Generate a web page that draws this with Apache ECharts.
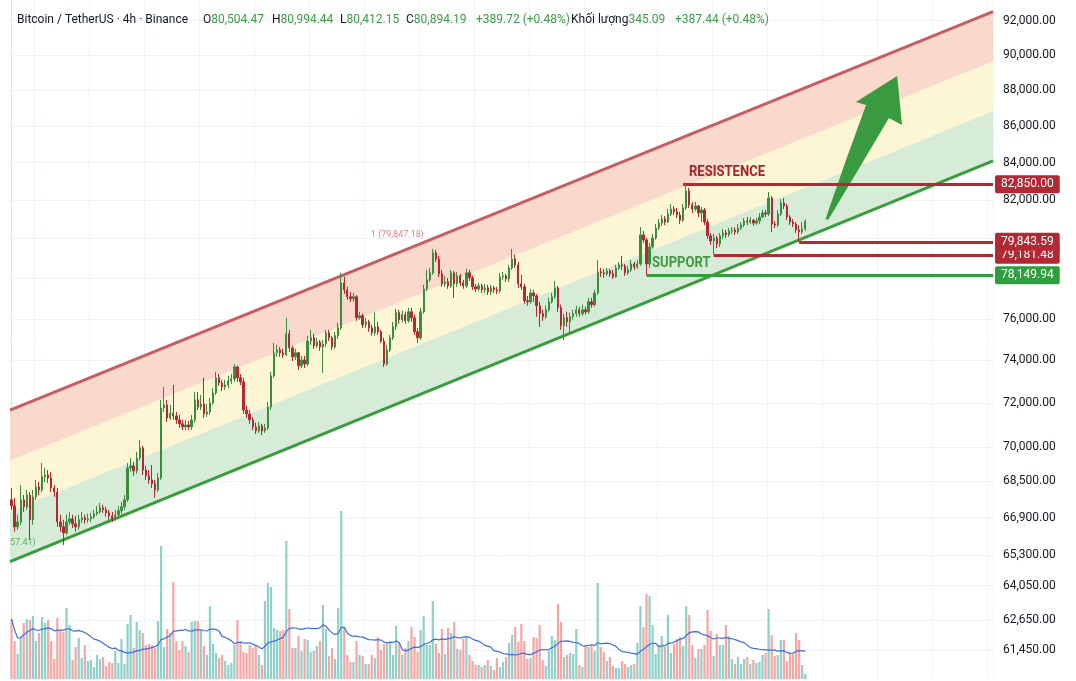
<!DOCTYPE html>
<html>
<head>
<meta charset="utf-8">
<title>BTCUSDT 4h</title>
<script src="https://cdn.jsdelivr.net/npm/echarts@6.0.0/dist/echarts.min.js"></script>
<style>
    html, body { margin: 0; padding: 0; background: #ffffff; }
    #container { width: 1076px; height: 681px; }
</style>
</head>
<body>
<div id="container"></div>
<script>
// 4h candles, Bitcoin / TetherUS on Binance
var firstOpen = 67670;
var closes = [
    67410, 66510, 66720, 67670, 67370, 67880, 66810, 67800, 68230, 68100,
    68680, 68760, 68630, 68190, 68010, 66720, 66510, 66250, 66720, 66850,
    66640, 66510, 66810, 66900, 66810, 66850, 66940, 67070, 67150, 67330,
    67240, 67110, 66980, 66850, 67030, 67200, 67370, 67670, 69070, 69160,
    68940, 69510, 69960, 68980, 68720, 68540, 68370, 68100, 68630, 71780,
    71920, 71320, 71540, 71410, 71230, 71050, 70910, 71000, 70910, 71230,
    72150, 71820, 71960, 71500, 71590, 72010, 72470, 73180, 72940, 72750,
    72840, 73030, 73130, 73690, 73180, 72990, 71680, 71500, 71230, 70910,
    70730, 70960, 70730, 70860, 71820, 73270, 74360, 74500, 74360, 74260,
    75270, 74590, 74170, 74360, 73740, 74020, 73830, 74920, 75080, 74690,
    74880, 74640, 74780, 75320, 75080, 74640, 75180, 75560, 77770, 77420,
    77080, 76980, 77080, 76050, 76150, 75710, 75850, 75560, 75320, 75610,
    75370, 74920, 73830, 74500, 75080, 75610, 76300, 75950, 76200, 75900,
    76340, 76050, 75370, 75080, 76340, 77470, 77920, 78270, 79280, 78970,
    78220, 77720, 77820, 77620, 78270, 77720, 78120, 77770, 77620, 78270,
    78020, 77570, 77470, 77620, 77420, 77520, 77320, 77520, 77420, 77370,
    78070, 78120, 77970, 78520, 78970, 78670, 77720, 77570, 76880, 76830,
    77270, 77120, 76640, 76250, 76100, 76440, 76830, 77080, 77520, 76540,
    75660, 76050, 75850, 76100, 76250, 76440, 76250, 76440, 76340, 76830,
    76690, 77270, 78320, 78270, 78220, 78370, 78220, 78070, 78520, 78670,
    78620, 78270, 78420, 78720, 78570, 78720, 80200, 79940, 78720, 79580,
    80040, 80550, 80810, 81020, 80860, 81280, 81540, 81390, 81230, 80960,
    81600, 82490, 81750, 81540, 81700, 81330, 81490, 80860, 80150, 79890,
    80040, 79740, 80150, 80300, 80200, 80400, 80450, 80350, 80550, 80710,
    80910, 80860, 80960, 80810, 80910, 81120, 81330, 81280, 82120, 80760,
    80710, 81280, 81860, 81700, 81120, 80860, 80760, 80450, 80350, 80504.47,
    80894.19
];
var highs = [
    68190, 67760, 67030, 68320, 67880, 68100, 68010, 68100, 68540, 68450,
    69290, 69070, 68980, 68900, 68320, 68190, 67030, 66810, 67030, 67150,
    67030, 66980, 67030, 67150, 67030, 67070, 67110, 67240, 67410, 67540,
    67460, 67370, 67240, 67150, 67240, 67410, 67580, 67880, 69290, 69510,
    69330, 69780, 70320, 70050, 69160, 68980, 69200, 68540, 68850, 72150,
    72750, 72150, 71920, 72840, 71590, 71460, 71230, 71230, 71180, 71460,
    72520, 72520, 72380, 73180, 71960, 72240, 72700, 73460, 73360, 73080,
    73080, 73270, 73360, 73830, 73740, 73360, 73180, 71870, 71680, 71360,
    71100, 71140, 71050, 71050, 72060, 73460, 74830, 74740, 74640, 74550,
    76050, 75460, 74690, 74550, 74400, 74210, 74210, 75180, 75460, 75270,
    75080, 74970, 74970, 75460, 75460, 75180, 75370, 75810, 78270, 78070,
    77570, 77320, 77270, 77170, 76340, 76250, 76050, 75950, 75710, 76300,
    75850, 75460, 75080, 74740, 75220, 75850, 76490, 76440, 76390, 76340,
    76540, 76540, 76200, 75560, 76540, 77670, 78420, 78520, 79480, 79430,
    79120, 78420, 78120, 78020, 78420, 78370, 78320, 78220, 77920, 78470,
    78420, 78120, 77720, 77770, 77720, 77720, 77670, 77670, 77620, 77570,
    78270, 78320, 78220, 78670, 79480, 79180, 78820, 78170, 77720, 77120,
    77470, 77420, 77220, 76830, 76440, 76640, 77030, 77270, 77870, 77620,
    76690, 76250, 76340, 76300, 76440, 76640, 76590, 76690, 76590, 77030,
    77030, 77420, 78920, 78520, 78470, 78520, 78470, 78420, 78670, 78820,
    79120, 78720, 78620, 78920, 78820, 78920, 80600, 80400, 80040, 79790,
    80250, 80760, 81020, 81230, 81170, 81540, 81800, 81700, 81600, 81390,
    81800, 82850, 82650, 81910, 81910, 81750, 81650, 81600, 81020, 80300,
    80250, 80150, 80300, 80500, 80450, 80550, 80600, 80600, 80760, 80860,
    81070, 81120, 81120, 81020, 81070, 81330, 81490, 81490, 82440, 82220,
    80910, 81490, 82060, 82120, 81800, 81230, 81020, 80860, 80710, 80860,
    80994.44
];
var lows = [
    67240, 66300, 66380, 66600, 67150, 67240, 65950, 66600, 67670, 67880,
    68010, 68450, 68410, 68010, 67800, 66510, 66300, 65740, 66170, 66600,
    66470, 66300, 66380, 66680, 66640, 66680, 66720, 66850, 66980, 67070,
    67110, 66940, 66810, 66720, 66770, 66940, 67070, 67240, 67580, 68900,
    68720, 68810, 69420, 68760, 68540, 68370, 68190, 67760, 68010, 68540,
    71590, 71140, 71230, 71230, 71050, 70860, 70770, 70770, 70770, 70770,
    71100, 71680, 71680, 71320, 71360, 71460, 71920, 72380, 72800, 72560,
    72610, 72700, 72890, 72990, 72990, 72840, 71500, 71320, 71050, 70770,
    70590, 70640, 70540, 70640, 70770, 71680, 73180, 74170, 74170, 74120,
    74210, 74400, 73970, 74020, 73550, 73640, 73640, 73740, 74740, 74550,
    74590, 74450, 73410, 74640, 74920, 74500, 74550, 75030, 75460, 77220,
    76930, 76830, 76830, 75900, 75950, 75560, 75560, 75370, 75180, 75180,
    75220, 74830, 73690, 73740, 74400, 74970, 75460, 75760, 75810, 75760,
    75810, 75850, 75220, 74830, 74970, 76250, 77370, 77820, 78170, 78820,
    78070, 77570, 77570, 77470, 77520, 77030, 77570, 77620, 77470, 77520,
    77870, 77420, 77320, 77370, 77270, 77270, 77170, 77170, 77270, 77220,
    77270, 77920, 77820, 77820, 78420, 78520, 77520, 77420, 76740, 76640,
    76740, 76830, 76100, 75610, 75900, 76000, 76340, 76740, 76980, 76340,
    75460, 74970, 75610, 75320, 75950, 76100, 76100, 76150, 76200, 76250,
    76540, 76590, 77170, 78070, 78020, 78120, 78070, 77970, 78020, 78420,
    78420, 78120, 78170, 78320, 78420, 78470, 78620, 79790, 78149.94, 78520,
    79480, 79940, 80450, 80660, 80710, 80810, 81170, 81230, 81070, 80760,
    80860, 81490, 81600, 81330, 81440, 81120, 80860, 80710, 79990, 79690,
    79181.48, 79530, 79580, 79990, 80040, 80100, 80250, 80200, 80250, 80450,
    80600, 80710, 80760, 80660, 80710, 80760, 81070, 81120, 81170, 80350,
    80550, 80600, 81170, 81540, 80960, 80710, 80600, 80300, 79843.59, 80250,
    80412.15
];
var volumes = [
    4200, 2660, 1750, 2940, 3920, 4200, 4130, 4410, 2660, 3220,
    4340, 3920, 4130, 2660, 1400, 4270, 3430, 3290, 4970, 3780,
    1330, 2240, 2870, 1470, 2380, 1260, 1330, 840, 1680, 1400,
    1540, 910, 1190, 1120, 1960, 1120, 2800, 1050, 3850, 4480,
    2170, 3990, 3430, 3220, 2380, 2450, 2380, 2170, 4060, 9310,
    2240, 3500, 3220, 6790, 2660, 2030, 2660, 2310, 1890, 3990,
    4060, 4060, 3430, 2310, 1680, 5110, 2450, 1820, 1470, 1680,
    1260, 980, 1120, 2380, 4130, 2660, 1890, 1820, 2380, 2170,
    2380, 1680, 980, 5460, 6720, 6440, 3570, 3430, 3360, 3430,
    9660, 4900, 2170, 2170, 3010, 1960, 2800, 2730, 1890, 1960,
    2310, 2660, 5180, 3500, 1610, 2170, 1400, 4970, 11760, 3640,
    1680, 1190, 1190, 2660, 1680, 1610, 1050, 1050, 1680, 1470,
    2940, 2030, 2450, 2520, 2520, 1680, 3710, 2520, 1680, 2170,
    2660, 3640, 2940, 1890, 3430, 4410, 2380, 2380, 5460, 2450,
    1820, 3500, 1750, 3570, 3220, 3990, 2100, 2030, 2800, 2940,
    1680, 1260, 980, 980, 840, 980, 1330, 910, 630, 1470,
    840, 1190, 1540, 2520, 3080, 3640, 2590, 3850, 2660, 1400,
    1470, 2940, 2870, 3780, 1330, 910, 2030, 3010, 2730, 5250,
    3990, 1540, 1680, 1820, 1750, 3500, 980, 840, 2380, 2240,
    2380, 1960, 6720, 2240, 1890, 1260, 1540, 910, 770, 770,
    1260, 1050, 840, 980, 1050, 2520, 5110, 3640, 5950, 5810,
    3780, 1750, 2380, 3010, 2240, 4480, 1820, 2450, 2800, 2940,
    2310, 5110, 4480, 2380, 1470, 2100, 2100, 2380, 4830, 3360,
    1610, 3150, 2380, 2380, 3780, 3010, 1400, 1050, 1540, 1050,
    1400, 1540, 1050, 1330, 1120, 1190, 1680, 1820, 4900, 3080,
    1610, 1680, 2730, 2730, 1260, 1820, 1820, 3220, 2730, 980,
    345.09
];

// right price scale
var priceTicks = [92000, 90000, 88000, 86000, 84000, 82000, 76000, 74000, 72000, 70000, 68500, 66900, 65300, 64050, 62650, 61450];
var gridTicks = priceTicks.concat([80000, 78000]);
var priceRange = [60329, 93230];
var volumeMax = 47530;

// channel: price at the left and right edge of the plot
var channelTop = [71680, 92540];
var channelBottom = [65040, 84100];

// support / resistance levels: [price, first candle]
var levels = [
    { price: 82850.00, from: 220, color: '#b22833' },
    { price: 79181.48, from: 230, color: '#b22833' },
    { price: 79843.59, from: 258, color: '#b22833' },
    { price: 78149.94, from: 208, color: '#2f9e3f' }
];

// arrow outline in [candle slot, price]
var arrowPath = [[266.6, 80990], [273.0, 83980], [279.9, 87160], [276.6, 87330], [290.1, 88800],
    [291.7, 86050], [287.4, 86440], [277.3, 83600], [267.6, 80990]];

var slotCount = 322;
var dayLines = [8, 26, 44, 62, 80, 98, 116, 134, 152, 170, 188, 212, 230, 248, 266, 284, 302, 320];

var upColor = '#388e3c';
var downColor = '#b22833';
var volUp = '#8fd0c8';
var volDown = '#f3a7a5';
var green = '#3e9b47';
var dark = '#131722';
var fontFamily = 'Roboto, "Noto Sans", sans-serif';

printChart();

function sma(values, n) {
    var out = [];
    for (let i = 0; i < values.length; i++) {
        var start = Math.max(0, i - n + 1), sum = 0;
        for (let j = start; j <= i; j++) sum += values[j];
        out.push(sum / (i - start + 1));
    }
    return out;
}

function fmt(v) {
    return v.toLocaleString('en-US', { minimumFractionDigits: 2, maximumFractionDigits: 2 });
}

function printChart() {
    var dom = document.getElementById('container');
    var myChart = echarts.init(dom);
    var ln = Math.log;

    var categories = [];
    for (let i = 0; i < slotCount; i++) categories.push(String(i));

    var opens = closes.map(function (c, i) { return i === 0 ? firstOpen : closes[i - 1]; });
    var candleData = closes.map(function (c, i) {
        return [ln(opens[i]), ln(c), ln(lows[i]), ln(highs[i])];
    });
    var volumeData = volumes.map(function (v, i) {
        return { value: v, itemStyle: { color: closes[i] >= opens[i] ? volUp : volDown } };
    });
    var volumeMA = sma(volumes, 20);

    var xLeft = -0.5, xRight = slotCount - 0.5;
    var b0 = ln(channelBottom[0]), b1 = ln(channelBottom[1]);
    var d0 = (ln(channelTop[0]) - b0) / 3, d1 = (ln(channelTop[1]) - b1) / 3;
    var bands = [0, 1, 2].map(function (k) {
        return [xLeft, b0 + d0 * k, b0 + d0 * (k + 1), xRight, b1 + d1 * k, b1 + d1 * (k + 1)];
    });
    var bandColors = ['#d6ecd7', '#fdf6d4', '#f9d9cc'];

    var levelLines = levels.map(function (lv) {
        return [
            { coord: [lv.from, ln(lv.price)], lineStyle: { color: lv.color, width: 3, type: 'solid' },
              label: { show: true, position: 'end', distance: 2, formatter: fmt(lv.price),
                       color: '#ffffff', backgroundColor: lv.color, fontSize: 12, fontFamily: fontFamily,
                       padding: [2, 6, 2, 6], lineHeight: 14, borderRadius: 2 } },
            { coord: [xRight, ln(lv.price)] }
        ];
    });

    var option = {
        animation: false,
        backgroundColor: '#ffffff',
        textStyle: { fontFamily: fontFamily },
        grid: { left: 10, right: 83, top: 0, bottom: 2, outerBoundsMode: 'none' },
        xAxis: [
            {
                type: 'category',
                data: categories,
                axisLine: { show: false },
                axisTick: { show: false },
                axisLabel: { show: false },
                splitLine: {
                    show: true,
                    interval: function (idx) { return dayLines.indexOf(idx) >= 0; },
                    lineStyle: { color: '#f0f3fa', width: 1 }
                }
            },
            { type: 'value', min: xLeft, max: xRight, show: false }
        ],
        yAxis: [
            {
                type: 'value',
                position: 'right',
                min: ln(priceRange[0]),
                max: ln(priceRange[1]),
                axisLine: { show: true, lineStyle: { color: '#e0e3eb' } },
                axisTick: { show: false, customValues: gridTicks.map(ln) },
                axisLabel: {
                    customValues: priceTicks.map(ln),
                    formatter: function (v) { return fmt(Math.round(Math.exp(v))); },
                    color: dark,
                    fontSize: 12,
                    margin: 10
                },
                splitLine: { show: true, lineStyle: { color: '#f0f3fa', width: 1 } }
            },
            { type: 'value', min: 0, max: volumeMax, show: false, splitLine: { show: false } }
        ],
        series: [
            {
                name: 'bands',
                type: 'custom',
                xAxisIndex: 1,
                yAxisIndex: 0,
                silent: true,
                clip: true,
                z: 1,
                encode: { x: [0, 3], y: [1, 2, 4, 5] },
                data: bands,
                renderItem: function (params, api) {
                    var a = api.coord([api.value(0), api.value(1)]);
                    var b = api.coord([api.value(0), api.value(2)]);
                    var c = api.coord([api.value(3), api.value(5)]);
                    var d = api.coord([api.value(3), api.value(4)]);
                    return { type: 'polygon', shape: { points: [a, b, c, d] }, style: { fill: bandColors[params.dataIndex] } };
                }
            },
            {
                name: 'Volume',
                type: 'bar',
                xAxisIndex: 0,
                yAxisIndex: 1,
                barWidth: 2.2,
                silent: true,
                z: 2,
                data: volumeData
            },
            {
                name: 'Volume MA',
                type: 'line',
                xAxisIndex: 0,
                yAxisIndex: 1,
                symbol: 'none',
                silent: true,
                z: 3,
                lineStyle: { color: '#3f6de3', width: 1.2 },
                data: volumeMA
            },
            {
                name: 'channel top',
                type: 'line',
                xAxisIndex: 1,
                yAxisIndex: 0,
                symbol: 'none',
                silent: true,
                z: 3,
                lineStyle: { color: '#c95c62', width: 3 },
                data: [[xLeft, ln(channelTop[0])], [xRight, ln(channelTop[1])]]
            },
            {
                name: 'channel bottom',
                type: 'line',
                xAxisIndex: 1,
                yAxisIndex: 0,
                symbol: 'none',
                silent: true,
                z: 3,
                lineStyle: { color: '#3a9d3c', width: 3 },
                data: [[xLeft, ln(channelBottom[0])], [xRight, ln(channelBottom[1])]]
            },
            {
                name: 'arrow',
                type: 'custom',
                xAxisIndex: 1,
                yAxisIndex: 0,
                silent: true,
                z: 4,
                encode: { x: 0, y: 1 },
                data: [[arrowPath[0][0], ln(arrowPath[0][1])]],
                renderItem: function (params, api) {
                    var pts = arrowPath.map(function (p) { return api.coord([p[0], ln(p[1])]); });
                    return { type: 'polygon', shape: { points: pts }, style: { fill: '#3a9a40' } };
                }
            },
            {
                name: 'BTCUSDT',
                type: 'candlestick',
                xAxisIndex: 0,
                yAxisIndex: 0,
                barWidth: 1.8,
                silent: true,
                z: 5,
                itemStyle: {
                    color: upColor,
                    color0: downColor,
                    borderColor: upColor,
                    borderColor0: downColor,
                    borderWidth: 1
                },
                data: candleData
            },
            {
                name: 'levels',
                type: 'line',
                xAxisIndex: 1,
                yAxisIndex: 0,
                data: [],
                clip: false,
                silent: true,
                z: 6,
                markLine: {
                    silent: true,
                    symbol: ['none', 'none'],
                    animation: false,
                    data: levelLines
                }
            }
        ]
    };
    myChart.setOption(option, true);

    // annotations placed through the price scale
    var toPx = function (slot, price) {
        return myChart.convertToPixel({ xAxisIndex: 1, yAxisIndex: 0 }, [slot, ln(price)]);
    };
    var notes = [
        { slot: 221.9, price: 83497, text: 'RESISTENCE', color: '#a4252e', size: 15, bold: true },
        { slot: 209.8, price: 78765, text: 'SUPPORT', color: '#3d9a43', size: 15, bold: true },
        { slot: 117.7, price: 80192, text: '1 (79,847.18)', color: '#e08890', size: 9 },
        { slot: -0.5, price: 65823, text: '57.41)', color: '#5fae63', size: 9 }
    ];
    var graphics = notes.map(function (n) {
        var p = toPx(n.slot, n.price);
        return {
            type: 'text', x: p[0], y: p[1], z: 20, silent: true,
            scaleX: n.bold ? 0.87 : 1,
            style: {
                text: n.text, fill: n.color, fontSize: n.size, fontFamily: fontFamily,
                fontWeight: n.bold ? 'bold' : 'normal', align: 'left', verticalAlign: 'middle'
            }
        };
    });

    var last = closes.length - 1;
    var change = closes[last] - opens[last];
    var pct = change / opens[last] * 100;
    var sign = change >= 0 ? '+' : '';
    var header = [
        { x: 17, text: '{k|Bitcoin / TetherUS · 4h · Binance}' },
        { x: 203, text: '{k|O}{v|' + fmt(opens[last]) + '}' },
        { x: 272, text: '{k|H}{v|' + fmt(highs[last]) + '}' },
        { x: 340, text: '{k|L}{v|' + fmt(lows[last]) + '}' },
        { x: 406, text: '{k|C}{v|' + fmt(closes[last]) + '}' },
        { x: 476, text: '{v|' + sign + fmt(change) + ' (' + sign + pct.toFixed(2) + '%)}' },
        { x: 571, text: '{k|Khối lượng}{v|' + fmt(volumes[last]) + '}' },
        { x: 675, text: '{v|+387.44 (+0.48%)}' }
    ];
    header.forEach(function (h) {
        graphics.push({
            type: 'text', x: h.x, y: 20, z: 20, silent: true,
            style: {
                text: h.text, fontSize: 12, fontFamily: fontFamily, verticalAlign: 'middle', align: 'left',
                rich: {
                    k: { fill: dark, fontSize: 12, fontFamily: fontFamily },
                    v: { fill: green, fontSize: 12, fontFamily: fontFamily }
                }
            }
        });
    });

    myChart.setOption({ graphic: graphics });
}
</script>
</body>
</html>
